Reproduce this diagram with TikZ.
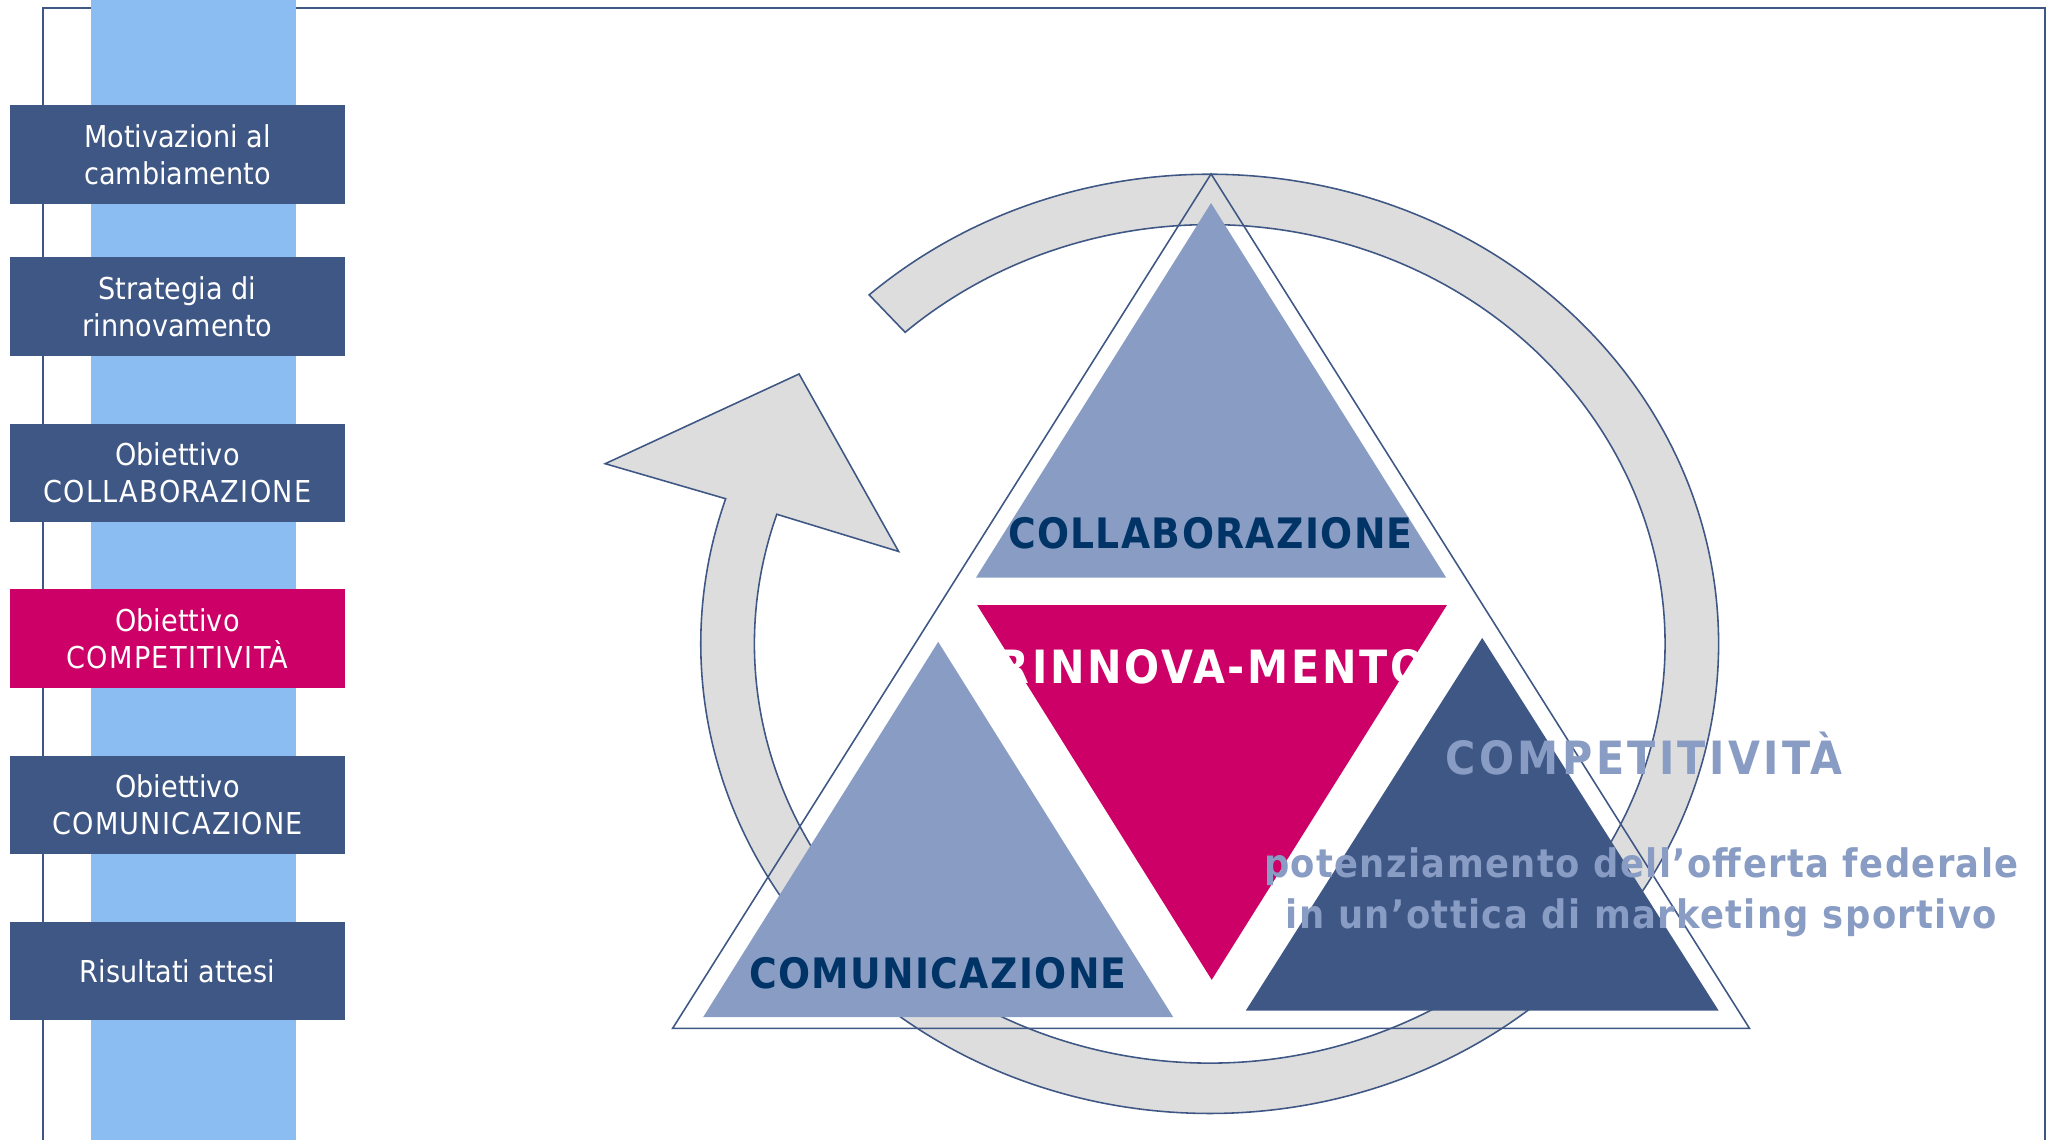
\documentclass[tikz,border=0pt]{standalone}
\usepackage{fontspec}
\setmainfont{DejaVu Sans}
\newfontfamily\condfont{DejaVu Sans Condensed}
\definecolor{navy}{HTML}{3F5785}
\definecolor{lightnavy}{HTML}{889CC4}
\definecolor{magentaR}{HTML}{CC0066}
\definecolor{bandblue}{HTML}{8BBDF2}
\definecolor{labeltext}{HTML}{003366}
\definecolor{ringgray}{HTML}{DDDDDD}
\newcommand{\capsls}[1]{{\addfontfeature{LetterSpace=4.5}#1}}
\tikzset{
  leftbox/.style={minimum width=256pt, minimum height=75pt, inner sep=0pt,
    text=white, align=center, font=\condfont\fontsize{23}{28.5}\selectfont},
  trilabel/.style={anchor=base, inner sep=0pt, font=\condfont\bfseries\fontsize{32}{38}\selectfont\addfontfeature{LetterSpace=3.3}},
  biglabel/.style={anchor=base, inner sep=0pt, font=\condfont\bfseries\fontsize{35}{40}\selectfont\addfontfeature{LetterSpace=6}},
  complabel/.style={anchor=base, inner sep=0pt, font=\condfont\bfseries\fontsize{35}{40}\selectfont\addfontfeature{LetterSpace=7.5}},
  bodylabel/.style={anchor=base, inner sep=0pt, text=lightnavy, font=\condfont\bfseries\fontsize{30}{36}\selectfont\addfontfeature{LetterSpace=3.5}},
  ringstyle/.style={fill=ringgray, draw=navy, line width=1.2pt, line join=miter},
  outline/.style={draw=navy, line width=1.2pt}
}
\begin{document}
\begin{tikzpicture}[x=1pt,y=1pt]
\useasboundingbox (0,0) rectangle (1568,870);
% frame
\draw[navy, line width=1.5pt] (33,0) -- (33,864) -- (1561,864) -- (1561,0);
% band
\fill[bandblue] (69.5,0) rectangle (226,870);
% left boxes
\node[leftbox, fill=navy] (b1) at (135.5,752) {Motivazioni al\\cambiamento};
\node[leftbox, fill=navy] (b2) at (135.5,636) {Strategia di\\rinnovamento};
\node[leftbox, fill=navy] (b3) at (135.5,509) {Obiettivo\\\capsls{COLLABORAZIONE}};
\node[leftbox, fill=magentaR] (b4) at (135.5,382.5) {Obiettivo\\\capsls{COMPETITIVITÀ}};
\node[leftbox, fill=navy] (b5) at (135.5,255.5) {Obiettivo\\\capsls{COMUNICAZIONE}};
\node[leftbox, fill=navy] (b6) at (135.5,128.5) {Risultati attesi};
% ring arrow
\draw[ringstyle] (663.5,644.9)
  arc[start angle=132, end angle=-198, x radius=388.5, y radius=358.5]
  -- (462,516) -- (610,584.5) -- (686,449) -- (593,477.4)
  arc[start angle=-198, end angle=132, x radius=347.5, y radius=320]
  -- cycle;
% big outline triangle
\draw[outline] (924.5,737.2) -- (513.5,85) -- (1335.5,85) -- cycle;
% top triangle
\fill[lightnavy] (924.5,715) -- (745,429) -- (1104,429) -- cycle;
\node[trilabel, text=labeltext] (lc) at (924,451) {COLLABORAZIONE};
% bottom-left triangle
\fill[lightnavy] (716.2,380) -- (536.8,93.6) -- (895.6,93.6) -- cycle;
\node[trilabel, text=labeltext] (lm) at (716,115.3) {COMUNICAZIONE};
% central inverted triangle
\fill[magentaR] (746,408) -- (1104.5,408) -- (925,122) -- cycle;
\node[biglabel, text=white] (lr) at (925,348.5) {RINNOVA-MENTO};
% dark triangle
\fill[navy] (1131.5,383) -- (951,98.5) -- (1312,98.5) -- cycle;
% competitivita texts
\node[complabel, text=lightnavy] (lp) at (1255,278.4) {COMPETITIVITÀ};
\node[bodylabel] (t1) at (1253,200) {potenziamento dell’offerta federale};
\node[bodylabel] (t2) at (1253,161.4) {in un’ottica di marketing sportivo};
\end{tikzpicture}
\end{document}
